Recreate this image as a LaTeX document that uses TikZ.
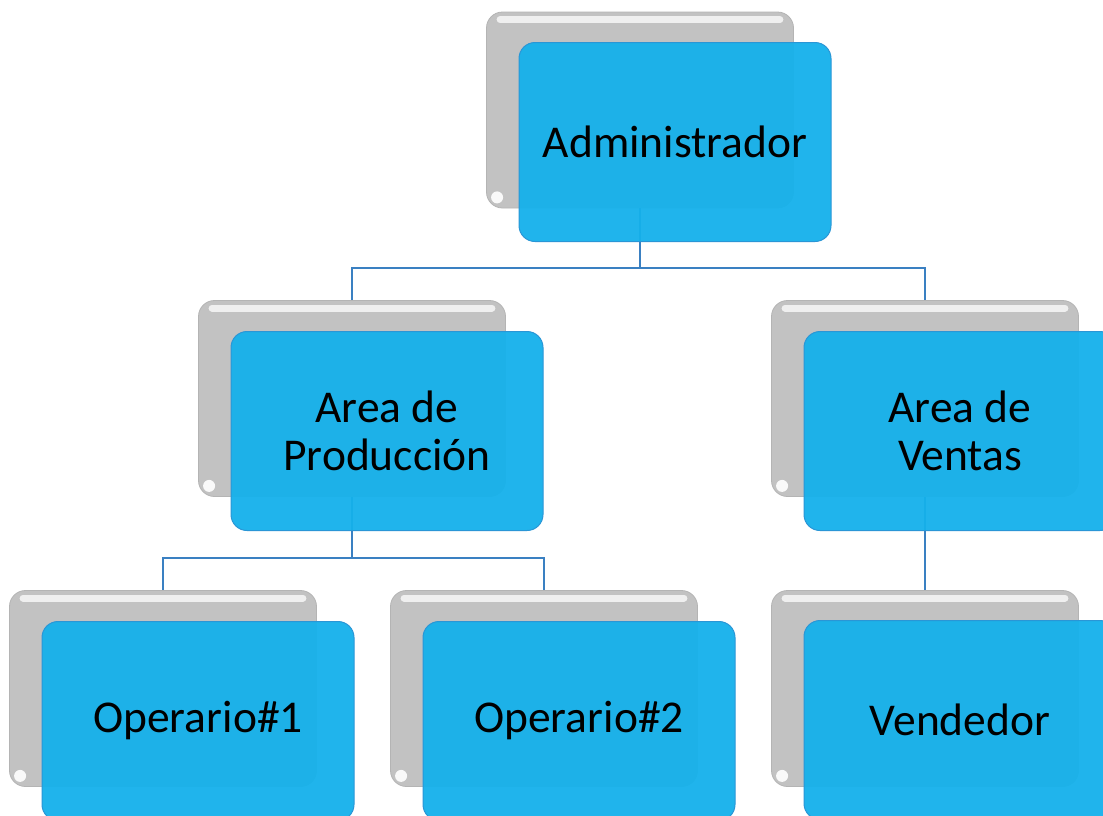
\documentclass[tikz,border=0pt]{standalone}
\usepackage{fontspec}
\setmainfont{Carlito}
\definecolor{graybox}{HTML}{C2C2C2}
\definecolor{grayedge}{HTML}{B4B4B4}
\definecolor{bluebox}{HTML}{15B1EB}
\definecolor{blueedge}{HTML}{2A96D6}
\definecolor{linecol}{HTML}{3A80C2}
\tikzset{
  shadowbox/.style={rectangle, rounded corners=16pt, minimum width=307pt, minimum height=196pt,
    inner sep=0pt, fill=graybox, draw=grayedge, line width=0.8pt},
  mainbox/.style={rectangle, rounded corners=16pt, minimum width=312pt, minimum height=199pt,
    inner sep=0pt, fill=bluebox, fill opacity=0.95, draw=blueedge, line width=1pt,
    text opacity=1, text=black, align=center, font=\fontsize{45.5}{48.5}\selectfont},
  conn/.style={draw=linecol, line width=2pt},
  shine/.style={white, line width=7pt, line cap=round, opacity=0.75},
  spot/.style={fill=white, opacity=0.9}
}
\newcommand{\grayshine}[1]{%
  \draw[shine] ([xshift=14pt,yshift=-8pt]#1.north west) -- ([xshift=-14pt,yshift=-8pt]#1.north east);
  \fill[spot] ([xshift=11pt,yshift=11pt]#1.south west) circle (6pt);}
\begin{document}
\begin{tikzpicture}[x=1pt,y=-1pt]
\clip (0,0) rectangle (1103,815);
\fill[white] (0,0) rectangle (1103,815);
% shadow boxes
\node[shadowbox] (adminS) at (640,110) {};
\node[shadowbox] (prodS) at (352,398.5) {};
\node[shadowbox] (ventS) at (925,398.5) {};
\node[shadowbox] (op1S) at (163,688.5) {};
\node[shadowbox] (op2S) at (544,688.5) {};
\node[shadowbox] (vendS) at (925,688.5) {};
\grayshine{adminS}
\grayshine{prodS}
\grayshine{ventS}
\grayshine{op1S}
\grayshine{op2S}
\grayshine{vendS}
% connectors
\coordinate (busA) at (640,268);
\coordinate (busP) at (352,558);
\draw[conn] (adminS.south) -- (busA) -| (prodS.north);
\draw[conn] (busA) -| (ventS.north);
\draw[conn] (prodS.south) -- (busP) -| (op1S.north);
\draw[conn] (busP) -| (op2S.north);
\draw[conn] (ventS.south) -- (vendS.north);
% main boxes
\node[mainbox] (admin) at (675,142) {Administrador};
\node[mainbox] (prod) at (387,431) {Area de\\Producción};
\node[mainbox] (vent) at (960,431) {Area de\\Ventas};
\node[mainbox] (op1) at (198,721) {Operario\#1};
\node[mainbox] (op2) at (579,721) {Operario\#2};
\node[mainbox] (vend) at (960,720) {Vendedor};
\end{tikzpicture}
\end{document}
